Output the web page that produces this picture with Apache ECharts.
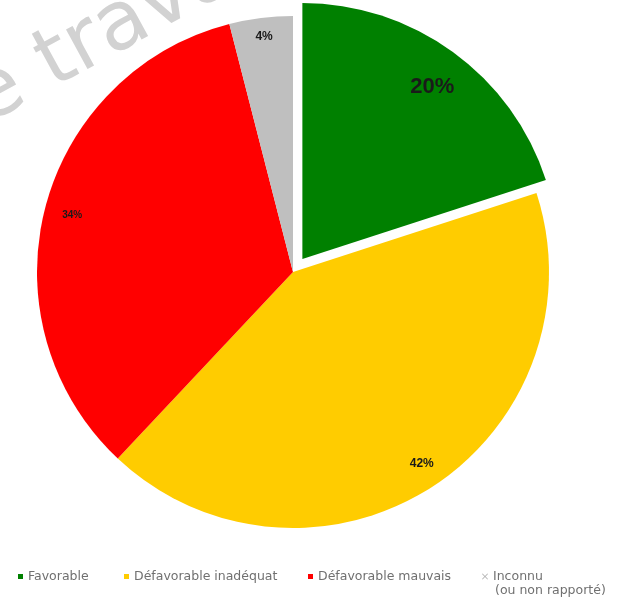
<!DOCTYPE html>
<html>
<head>
<meta charset="utf-8">
<script src="https://cdn.jsdelivr.net/npm/echarts@6/dist/echarts.min.js"></script>
<style>html,body{margin:0;padding:0;background:#fff}#c{width:618px;height:602px}</style>
</head>
<body>
<div id="c"></div>
<script>
var categories = ['Favorable', 'Défavorable inadéquat', 'Défavorable mauvais', 'Inconnu'];
var legendLabels = ['Favorable', 'Défavorable inadéquat', 'Défavorable mauvais', 'Inconnu'];
var legendNote = '(ou non rapporté)';
var values = [20, 42, 34, 4];
var colors = ['#008000', '#FFCC00', '#FF0000', '#BFBFBF'];
var labelSizes = [22, 12, 10, 12];
var labelOffsets = [[-6, 15], [5, -3], [3, 1], [0, -6]];

var chart = echarts.init(document.getElementById('c'), null, {renderer: 'canvas'});

var mainData = categories.map(function (n, i) {
  return {name: n, value: values[i], selected: i === 0, itemStyle: {color: colors[i]}};
});
var labelData = categories.map(function (n, i) {
  var lab = {fontSize: labelSizes[i], offset: labelOffsets[i]};
  return {
    name: n, value: values[i], selected: i === 0,
    label: lab, select: {label: lab}
  };
});

var legendLefts = [18, 124, 308, 482];
var legends = categories.map(function (n, i) {
  return {
    data: [{name: n, itemStyle: {color: i === 3 ? '#b0b0b0' : colors[i]},
      icon: i === 3 ? 'path://M0,1L1,0L5,4L9,0L10,1L6,5L10,9L9,10L5,6L1,10L0,9L4,5Z' : 'rect'}],
    left: legendLefts[i], top: 570, padding: 0,
    itemWidth: i === 3 ? 6 : 5, itemHeight: i === 3 ? 6 : 5,
    selectedMode: false,
    formatter: function () { return legendLabels[i]; },
    textStyle: {fontFamily: 'DejaVu Sans', fontSize: 12.5, color: '#707070'}
  };
});

chart.setOption({
  backgroundColor: '#fff',
  animation: false,
  graphic: [{
    type: 'text', x: -5, y: 142, rotation: 0.5, z: -10,
    style: {text: 'e travail', font: '82px "DejaVu Sans"', fill: '#d2d2d2', textVerticalAlign: 'bottom'}
  }, {
    type: 'text', left: 495, top: 584,
    style: {text: legendNote, font: '12.5px "DejaVu Sans"', fill: '#707070'}
  }],
  legend: legends,
  series: [{
    type: 'pie',
    center: [293, 272],
    radius: [0, 256],
    startAngle: 90,
    clockwise: true,
    selectedMode: 'single',
    selectedOffset: 16,
    silent: true,
    label: {show: false},
    labelLine: {show: false},
    emphasis: {disabled: true},
    data: mainData
  }, {
    type: 'pie',
    center: [293, 272],
    radius: [200, 256],
    startAngle: 90,
    clockwise: true,
    selectedMode: 'single',
    selectedOffset: 16,
    silent: true,
    itemStyle: {color: 'rgba(0,0,0,0)'},
    label: {show: true, position: 'inside', formatter: '{c}%', fontFamily: 'Liberation Sans', fontWeight: 'bold', color: '#1a1a1a'},
    labelLine: {show: false},
    emphasis: {disabled: true},
    data: labelData
  }]
});
</script>
</body>
</html>
